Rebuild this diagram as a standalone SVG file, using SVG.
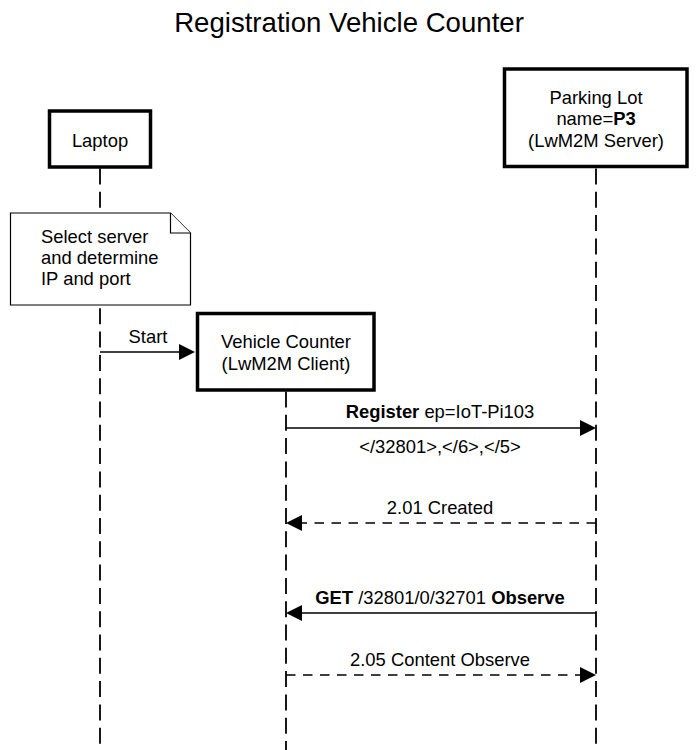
<svg xmlns="http://www.w3.org/2000/svg" width="698" height="750" viewBox="0 0 698 750">
<style>
text{font-family:"Liberation Sans",Arial,sans-serif;font-size:18.4px;fill:#000}
.title{font-size:27.6px}
.box{fill:#fff;stroke:#000;stroke-width:3.5}
.life{stroke:#000;stroke-width:1.8;stroke-dasharray:16 7.3;fill:none}
.msg{stroke:#000;stroke-width:1.5;fill:none}
.dash{stroke-dasharray:9.5 7.5}
.head{fill:#000}
.note{fill:#fff;stroke:#000;stroke-width:1.2}
.b{font-weight:bold}
</style>
<rect width="698" height="750" fill="#fff"/>
<text class="title" x="349" y="31.5" text-anchor="middle">Registration Vehicle Counter</text>
<g id="lifelines">
<line class="life" x1="100" y1="168.5" x2="100" y2="750"/>
<line class="life" x1="286" y1="391.5" x2="286" y2="750"/>
<line class="life" x1="596" y1="168.5" x2="596" y2="750"/>
</g>
<g id="laptop">
<rect class="box" x="49.5" y="111" width="101" height="56"/>
<text x="100" y="146.5" text-anchor="middle">Laptop</text>
</g>
<g id="parking-lot">
<rect class="box" x="504.5" y="69" width="182.5" height="97.5"/>
<text x="596" y="103.5" text-anchor="middle">Parking Lot</text>
<text x="596" y="124.5" text-anchor="middle">name=<tspan class="b">P3</tspan></text>
<text x="596" y="146.5" text-anchor="middle">(LwM2M Server)</text>
</g>
<g id="note">
<path class="note" d="M10.5,213 H170.5 L190.5,233 V305 H10.5 Z"/>
<path class="note" d="M170.5,213 V233 H190.5" fill="none"/>
<text x="41" y="243">Select server</text>
<text x="41" y="264">and determine</text>
<text x="41" y="285">IP and port</text>
</g>
<g id="vehicle-counter">
<rect class="box" x="197.5" y="313.5" width="176.5" height="76.5"/>
<text x="286" y="348" text-anchor="middle">Vehicle Counter</text>
<text x="286" y="370" text-anchor="middle">(LwM2M Client)</text>
</g>
<g id="connectors">
<line class="msg" x1="100" y1="352" x2="180" y2="352"/>
<polygon class="head" points="179,344 195,352 179,360"/>
<text x="148" y="343" text-anchor="middle">Start</text>

<line class="msg" x1="286" y1="428" x2="581" y2="428"/>
<polygon class="head" points="580,420 596,428 580,436"/>
<text x="440" y="418" text-anchor="middle"><tspan class="b">Register</tspan> ep=IoT-Pi103</text>
<text x="440" y="453" text-anchor="middle">&lt;/32801&gt;,&lt;/6&gt;,&lt;/5&gt;</text>

<line class="msg dash" x1="596" y1="523" x2="301" y2="523"/>
<polygon class="head" points="302,515 286,523 302,531"/>
<text x="440" y="514" text-anchor="middle">2.01 Created</text>

<line class="msg" x1="596" y1="613" x2="301" y2="613"/>
<polygon class="head" points="302,605 286,613 302,621"/>
<text x="440" y="604" text-anchor="middle"><tspan class="b">GET</tspan> /32801/0/32701 <tspan class="b">Observe</tspan></text>

<line class="msg dash" x1="286" y1="675" x2="581" y2="675"/>
<polygon class="head" points="580,667 596,675 580,683"/>
<text x="440" y="666" text-anchor="middle">2.05 Content Observe</text>
</g>
</svg>
